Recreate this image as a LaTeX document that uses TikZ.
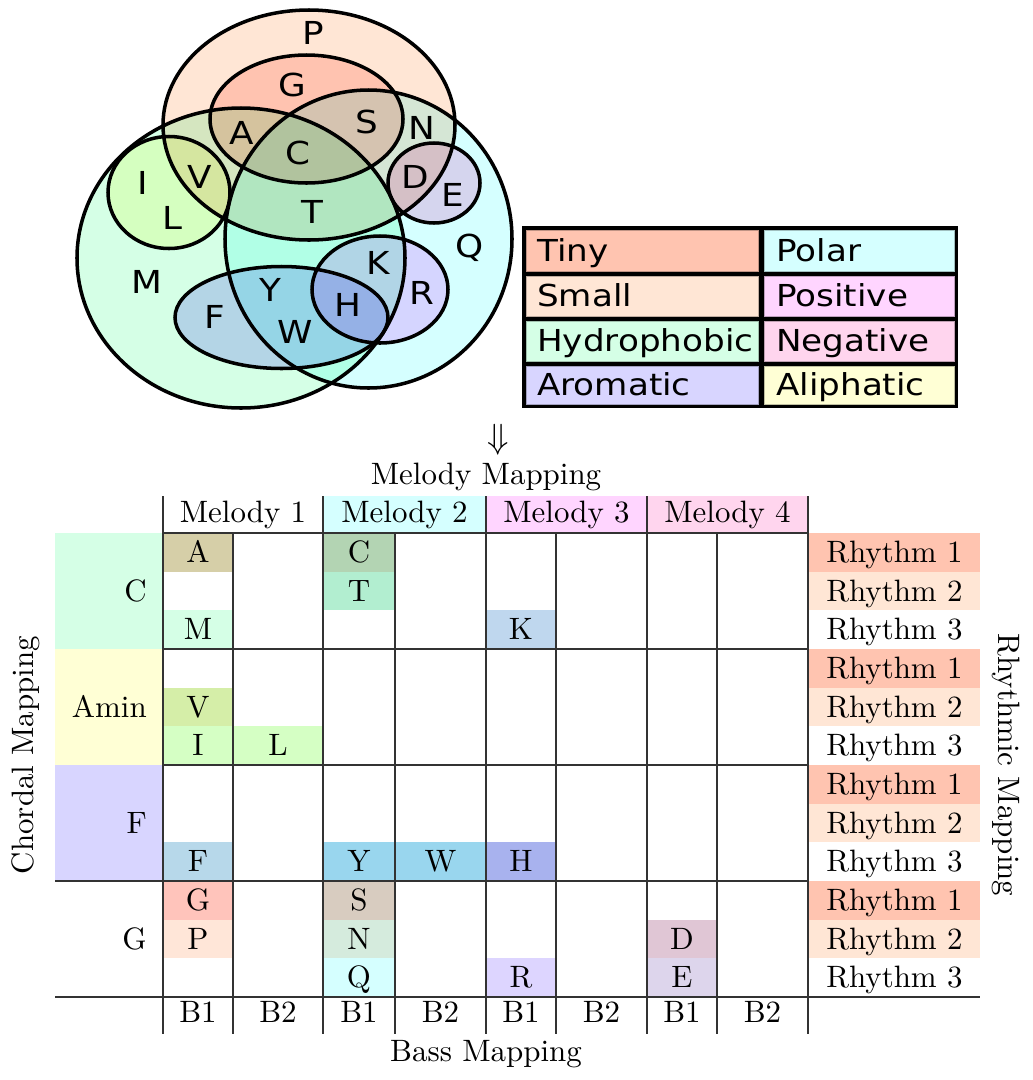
\documentclass[tikz,border=0pt]{standalone}
\usepackage{fontspec}
\setmainfont{lmroman10}[Extension=.otf, UprightFont=*-regular]
\newfontfamily\vennfont[FakeStretch=1.13]{DejaVu Sans}

\definecolor{tiny}{HTML}{FFC4B0}
\definecolor{vtiny}{HTML}{FFD9D3}
\definecolor{small}{HTML}{FFE6D5}
\definecolor{hydro}{HTML}{D5FFE6}
\definecolor{arom}{HTML}{D8D5FF}
\definecolor{polar}{HTML}{D5FFFF}
\definecolor{posi}{HTML}{FFD5FF}
\definecolor{nega}{HTML}{FFD5EE}
\definecolor{aliph}{HTML}{FFFFD5}

\definecolor{cA}{HTML}{D6CFA8}
\definecolor{cC}{HTML}{B3D4B3}
\definecolor{cT}{HTML}{B2EED0}
\definecolor{cK}{HTML}{BFD7EE}
\definecolor{cV}{HTML}{D5EEA8}
\definecolor{cIL}{HTML}{D5FFC4}
\definecolor{cF}{HTML}{B7D8EA}
\definecolor{cYW}{HTML}{99D6EE}
\definecolor{cH}{HTML}{A8B2EE}
\definecolor{cG}{HTML}{FFC4BB}
\definecolor{cP}{HTML}{FFE6D8}
\definecolor{cS}{HTML}{D8CCC0}
\definecolor{cN}{HTML}{D5EBDD}
\definecolor{cR}{HTML}{DDD5FF}
\definecolor{cD}{HTML}{E0C6D5}
\definecolor{cE}{HTML}{DDD5EC}

\begin{document}
\begin{tikzpicture}[x=0.025cm, y=-0.025cm,
    venn/.style={font=\vennfont\fontsize{22.5}{26}\selectfont, inner sep=0pt},
    ring/.style={draw=black, line width=2.5pt},
    legtext/.style={font=\vennfont\fontsize{21.5}{25}\selectfont, inner sep=0pt, anchor=base west},
    tab/.style={font=\fontsize{22}{26}\selectfont, inner sep=0pt, anchor=base},
    rule/.style={line width=0.8pt, black!80}]

    \useasboundingbox (0,0) rectangle (1033,1080);

    % venn diagram
    \begin{scope}[blend mode=multiply]
        \filldraw[ring, fill=small] (309,125) ellipse [x radius=146, y radius=115];
        \filldraw[ring, fill=vtiny] (306.5,119) ellipse [x radius=96.5, y radius=64];
        \filldraw[ring, fill=hydro] (241,258) ellipse [x radius=164, y radius=150];
        \filldraw[ring, fill=polar] (368.5,239) ellipse [x radius=143.5, y radius=149];
        \filldraw[ring, fill=aliph] (169,192.5) ellipse [x radius=61, y radius=56];
        \filldraw[ring, fill=arom] (281.5,317.5) ellipse [x radius=106.5, y radius=51];
        \filldraw[ring, fill=posi] (380,289.5) ellipse [x radius=68, y radius=53.5];
        \filldraw[ring, fill=nega] (434,183) ellipse [x radius=46, y radius=40];
    \end{scope}

    \node (vP) at (313,33) [venn] {P};
    \node (vG) at (292,85) [venn] {G};
    \node (vA) at (242,133) [venn] {A};
    \node (vS) at (367,122) [venn] {S};
    \node (vN) at (422,128) [venn] {N};
    \node (vC) at (298,153) [venn] {C};
    \node (vI) at (143,183) [venn] {I};
    \node (vV) at (200,177) [venn] {V};
    \node (vL) at (172,218) [venn] {L};
    \node (vD) at (415,177) [venn] {D};
    \node (vE) at (453,195) [venn] {E};
    \node (vT) at (312,212) [venn] {T};
    \node (vQ) at (470,248) [venn] {Q};
    \node (vK) at (378,263) [venn] {K};
    \node (vM) at (147,282) [venn] {M};
    \node (vR) at (422,293) [venn] {R};
    \node (vY) at (270,290) [venn] {Y};
    \node (vF) at (215,317) [venn] {F};
    \node (vH) at (348,305) [venn] {H};
    \node (vW) at (295,332) [venn] {W};

    % legend
    \fill[black] (522,226) rectangle (958,408);
    \foreach \nm/\col/\xa/\xb/\ya/\yb/\tx in {
        Tiny/tiny/526/758/230/271/537, Small/small/526/758/276/316/537,
        Hydrophobic/hydro/526/758/321/361/537, Aromatic/arom/526/758/366/404/537,
        Polar/polar/764/954/230/271/776, Positive/posi/764/954/276/316/776,
        Negative/nega/764/954/321/361/776, Aliphatic/aliph/764/954/366/404/776} {
        \filldraw[fill=\col, draw=\col!75!black, line width=0.6pt] (\xa,\ya) rectangle (\xb,\yb);
        \node (leg\nm) at (\tx,{(\ya+\yb)/2+10.5}) [legtext] {\nm};
    }

    \node (down) at (498,440) [font=\fontsize{22}{26}\selectfont, inner sep=0pt] {\scalebox{1.2}{$\Downarrow$}};
    \node (melmap) at (486,484) [tab] {Melody Mapping};

    % table fills
    \fill[polar] (323,496) rectangle (486,533);
    \fill[posi] (486,496) rectangle (647,533);
    \fill[nega] (647,496) rectangle (808,533);
    \fill[hydro] (55,533) rectangle (163,649);
    \fill[aliph] (55,649) rectangle (163,765);
    \fill[arom] (55,765) rectangle (163,881);
    \fill[hydro] (163,610.33) rectangle (233,649);

    \foreach \c/\xa/\xb/\r/\t in {
        cA/163/233/1/A, cC/323/395/1/C, cT/323/395/2/T, cK/486/556/3/K,
        cV/163/233/5/V, cIL/163/233/6/I, cIL/233/323/6/L,
        cF/163/233/9/F, cYW/323/395/9/Y, cYW/395/486/9/W, cH/486/556/9/H,
        cG/163/233/10/G, cS/323/395/10/S, cP/163/233/11/P, cN/323/395/11/N,
        cD/647/717/11/D, polar/323/395/12/Q, cR/486/556/12/R, cE/647/717/12/E} {
        \fill[\c] (\xa,{533+(\r-1)*38.667}) rectangle (\xb,{533+\r*38.667});
        \node (cell\t) at ({(\xa+\xb)/2},{543+(\r-0.5)*38.667}) [tab] {\t};
    }
    \node (cellM) at (198,{543+2.5*38.667}) [tab] {M};

    \foreach \g in {0,...,3} {
        \fill[tiny] (808,{533+3*\g*38.667}) rectangle (980,{533+(3*\g+1)*38.667});
        \fill[small] (808,{533+(3*\g+1)*38.667}) rectangle (980,{533+(3*\g+2)*38.667});
        \foreach \k in {1,2,3}
            \node (rhy\g\k) at (826,{543+(3*\g+\k-0.5)*38.667}) [tab, anchor=base west] {Rhythm \k};
    }

    % grid
    \foreach \x in {163,323,486,647,808}
        \draw[rule] (\x,496) -- (\x,1034);
    \foreach \x in {233,395,556,717}
        \draw[rule] (\x,533) -- (\x,1034);
    \draw[rule] (163,533) -- (808,533);
    \draw[rule] (163,649) -- (808,649);
    \draw[rule] (163,765) -- (808,765);
    \draw[rule] (55,881) -- (808,881);
    \draw[rule] (55,997) -- (980,997);

    % labels
    \node (mel1) at (243,522) [tab] {Melody 1};
    \node (mel2) at (404.5,522) [tab] {Melody 2};
    \node (mel3) at (566.5,522) [tab] {Melody 3};
    \node (mel4) at (727.5,522) [tab] {Melody 4};

    \node (chC) at (147,{543+1.5*38.667}) [tab, anchor=base east] {C};
    \node (chAmin) at (147,{543+4.5*38.667}) [tab, anchor=base east] {Amin};
    \node (chF) at (147,{543+7.5*38.667}) [tab, anchor=base east] {F};
    \node (chG) at (147,{543+10.5*38.667}) [tab, anchor=base east] {G};

    \foreach \x/\b [count=\i] in {198/1,278/2,359/1,440.5/2,521/1,601.5/2,682/1,762.5/2}
        \node (bass\i) at (\x,1022) [tab] {B\b};

    \node (bassmap) at (486,1061) [tab] {Bass Mapping};
    \node (chordmap) at (33,755) [tab, rotate=90] {Chordal Mapping};
    \node (rhymap) at (998,765) [tab, rotate=-90] {Rhythmic Mapping};
\end{tikzpicture}
\end{document}
